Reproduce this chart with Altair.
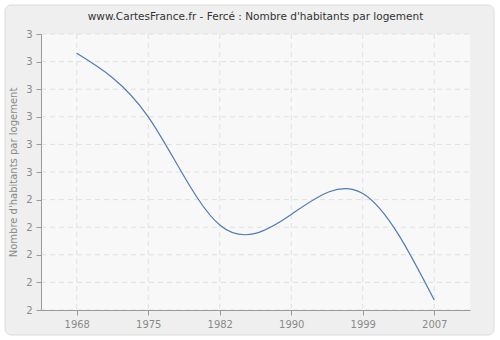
import altair as alt
import pandas as pd

years = ["1968", "1975", "1982", "1990", "1999", "2007"]
values = [2.930, 2.700, 2.308, 2.346, 2.422, 2.036]
y_ticks = [2.0, 2.1, 2.2, 2.3, 2.4, 2.5, 2.6, 2.7, 2.8, 2.9, 3.0]
title_text = "www.CartesFrance.fr - Fercé : Nombre d'habitants par logement"

df = pd.DataFrame({"year": years, "value": values})
ygrid = pd.DataFrame({"value": y_ticks})
xgrid = pd.DataFrame({"year": years})

FONT = "DejaVu Sans"
GREY = "#8a8a8a"
GRIDC = "#e0e0e0"

one = pd.DataFrame({"t": [title_text]})

x_enc = alt.X("year:O", sort=years,
              scale=alt.Scale(type="point", padding=0.5),
              axis=alt.Axis(title=None, labelAngle=0, grid=False,
                            domainColor="#9a9a9a", tickColor="#9a9a9a",
                            tickSize=5, labelColor=GREY, labelFont=FONT,
                            labelFontSize=10, labelPadding=4, zindex=1))
y_enc = alt.Y("value:Q",
              scale=alt.Scale(domain=[2.0, 3.0], nice=False, zero=False),
              axis=alt.Axis(title="Nombre d'habitants par logement",
                            values=y_ticks, format=".0f", grid=False,
                            domainColor="#9a9a9a", tickColor="#9a9a9a",
                            tickSize=5, labelColor=GREY, labelFont=FONT,
                            labelFontSize=10, labelPadding=4,
                            titleColor=GREY, titleFont=FONT,
                            titleFontSize=10, titleFontWeight="normal",
                            titlePadding=7, zindex=1))

frame = alt.Chart(one).mark_rect(
    fill="#efefef", stroke="#dcdcdc", strokeWidth=1, cornerRadius=6
).encode(
    x=alt.value(-36), x2=alt.value(453), y=alt.value(-29), y2=alt.value(301)
)

plotbg = alt.Chart(one).mark_rect(
    fill="#f8f8f8"
).encode(
    x=alt.value(0), x2=alt.value(429), y=alt.value(0), y2=alt.value(276)
)

title = alt.Chart(one).mark_text(
    font=FONT, fontSize=10.5, color="#333333", align="center", baseline="middle"
).encode(
    x=alt.value(214.5), y=alt.value(-17), text="t:N"
)

hgrid = alt.Chart(ygrid).mark_rule(
    color=GRIDC, strokeDash=[5, 4], strokeWidth=1
).encode(y=y_enc, x=alt.value(0), x2=alt.value(429))

vgrid = alt.Chart(xgrid).mark_rule(
    color=GRIDC, strokeDash=[5, 4], strokeWidth=1
).encode(x=x_enc, y=alt.value(0), y2=alt.value(276))

line = alt.Chart(df).mark_line(
    interpolate="natural", color="#4f7cb3", strokeWidth=1.2
).encode(x=x_enc, y=y_enc)

chart = alt.layer(frame, plotbg, hgrid, vgrid, title, line).properties(
    width=429,
    height=276,
    autosize=alt.AutoSizeParams(type="none"),
    padding={"left": 41, "top": 34, "right": 30, "bottom": 30},
    background="white",
).configure_view(stroke=None)

chart.save("out.html", embed_options={"renderer": "svg", "actions": False})
